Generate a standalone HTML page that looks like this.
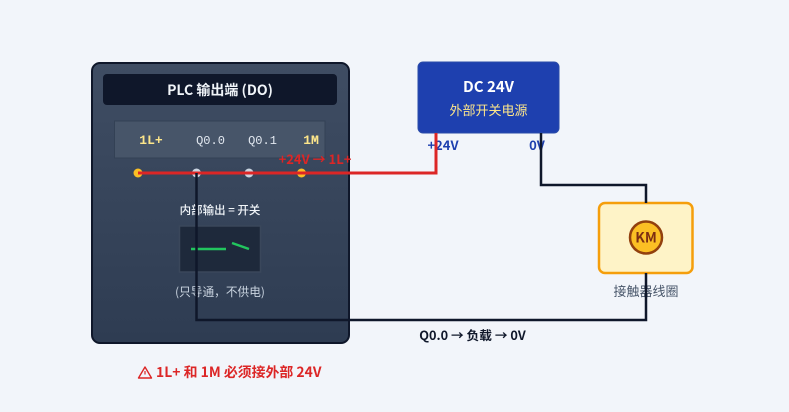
<!DOCTYPE html>
<html><head><meta charset="utf-8">
<style>
html,body{margin:0;padding:0;background:#f1f5f9;}
svg{display:block;}
text{font-family:"Noto Sans CJK SC","Liberation Sans",sans-serif;}
.m{font-family:"Liberation Mono","DejaVu Sans Mono","Noto Sans CJK SC",monospace;}
</style></head>
<body>
<svg width="789" height="412" viewBox="0 0 789 412" xmlns="http://www.w3.org/2000/svg">
<defs>
<linearGradient id="g" x1="0" y1="0" x2="0" y2="1"><stop offset="0" stop-color="#3f4d63"/><stop offset="1" stop-color="#2e3c52"/></linearGradient>
</defs>
<rect width="789" height="412" fill="#f2f5fa"/>
<rect x="92" y="63" width="257" height="280" rx="8" fill="url(#g)" stroke="#0f172a" stroke-width="2"/>
<rect x="103" y="74" width="234" height="31" rx="4" fill="#0f172a"/>
<text x="220" y="95" text-anchor="middle" font-size="14" font-weight="700" fill="#f1f5f9">PLC 输出端 (DO)</text>
<rect x="114.500" y="121" width="210.500" height="37" fill="#475569" stroke="#334155" stroke-width="1"/>
<text class="m" x="151" y="144" text-anchor="middle" font-size="13" font-weight="700" fill="#fde68a">1L+</text>
<text class="m" x="210.500" y="144" text-anchor="middle" font-size="12" fill="#e2e8f0">Q0.0</text>
<text class="m" x="262.500" y="144" text-anchor="middle" font-size="12" fill="#e2e8f0">Q0.1</text>
<text class="m" x="311" y="144" text-anchor="middle" font-size="13" font-weight="700" fill="#fde68a">1M</text>
<text class="m" x="315" y="144" text-anchor="middle" font-size="13" font-weight="700" fill="#fde68a" opacity=".6">M</text>

<circle cx="138" cy="173" r="4.500" fill="#fbbf24"/>
<circle cx="196.500" cy="173" r="4.500" fill="#cbd5e1"/>
<circle cx="249" cy="173" r="4.500" fill="#cbd5e1"/>
<circle cx="301.500" cy="173" r="4.500" fill="#fbbf24"/>

<text x="315" y="164" text-anchor="middle" font-size="13" font-weight="700" fill="#dc2626">+24V → 1L+</text>

<text x="220" y="214" text-anchor="middle" font-size="11.500" font-weight="500" fill="#f1f5f9">内部输出 = 开关</text>
<rect x="179.500" y="226" width="81" height="46" fill="#1e293b" stroke="#3a475b" stroke-width="1.500"/>
<line x1="191" y1="249" x2="226" y2="249" stroke="#22c55e" stroke-width="2.500"/>
<line x1="232" y1="243" x2="249" y2="249" stroke="#22c55e" stroke-width="2.500"/>
<text x="220" y="296" text-anchor="middle" font-size="11.700" fill="#cbd5e1">(只导通，不供电)</text>

<rect x="418" y="62" width="141" height="71" rx="5" fill="#1e40af" stroke="#2b4ca8" stroke-width="1"/>
<text x="488.500" y="92" text-anchor="middle" font-size="15" font-weight="700" fill="#ffffff">DC 24V</text>
<text x="488.500" y="115" text-anchor="middle" font-size="13" fill="#fde68a">外部开关电源</text>
<text x="443" y="150" text-anchor="middle" font-size="13" font-weight="700" fill="#1e40af">+24V</text>
<text x="537" y="150" text-anchor="middle" font-size="13" font-weight="700" fill="#1e40af">0V</text>

<rect x="599" y="203" width="93.500" height="70" rx="6" fill="#fef3c7" stroke="#f59e0b" stroke-width="2.500"/>
<circle cx="646" cy="237.500" r="16" fill="#fbbf24" stroke="#92400e" stroke-width="2.500"/>
<text x="646" y="242.500" text-anchor="middle" font-size="14" font-weight="700" fill="#7c2d12">KM</text>
<text x="646" y="296" text-anchor="middle" font-size="13" fill="#475569">接触器线圈</text>

<path d="M138 173H436V133" fill="none" stroke="#dc2626" stroke-width="3"/>
<path d="M541 133V185H646V203" fill="none" stroke="#0f172a" stroke-width="2.500"/>
<path d="M196.500 173V320H646V273" fill="none" stroke="#0f172a" stroke-width="2.500"/>

<text x="472.500" y="340" text-anchor="middle" font-size="12.700" font-weight="700" fill="#0f172a">Q0.0 → 负载 → 0V</text>
<path d="M145 367L151.500 378H138.500Z" fill="none" stroke="#dc2626" stroke-width="1.400" stroke-linejoin="round"/>
<line x1="145" y1="371" x2="145" y2="374.500" stroke="#dc2626" stroke-width="1.200"/>
<text x="156" y="377" font-size="13.900" font-weight="700" fill="#dc2626">1L+ 和 1M 必须接外部 24V</text>
</svg>
</body></html>
